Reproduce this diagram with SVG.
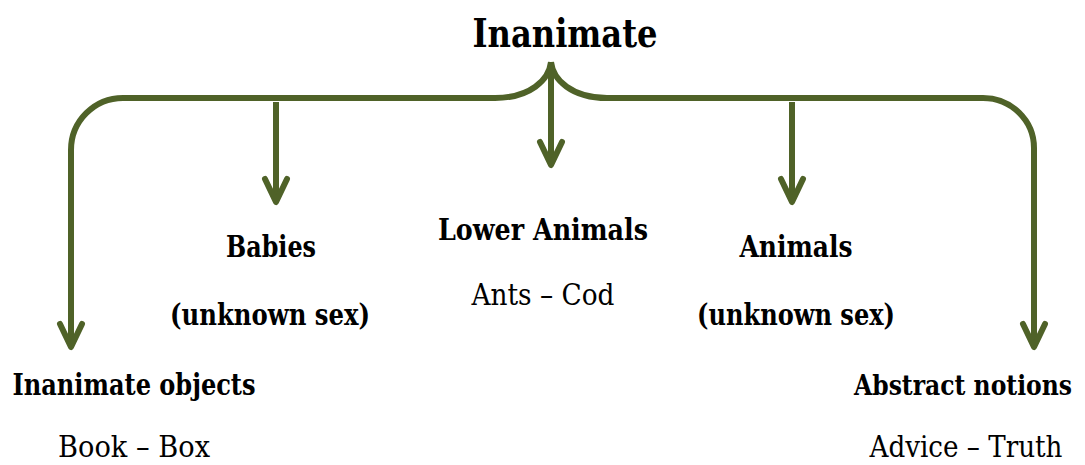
<svg xmlns="http://www.w3.org/2000/svg" width="1085" height="465" viewBox="0 0 1085 465">
<style>
.c{fill:none;stroke:#4F6228;stroke-width:6}
text{fill:#000;text-anchor:middle;font-family:"DejaVu Serif Condensed","DejaVu Serif","Liberation Serif",serif;font-stretch:condensed}
.b{font-weight:bold;font-size:30px}
.r{font-size:30px}
.t{font-weight:bold;font-size:40px}
</style>
<defs>
<marker id="ah" markerUnits="userSpaceOnUse" viewBox="-30 -15 40 30" markerWidth="40" markerHeight="30" refX="0" refY="0" orient="auto" overflow="visible">
<path d="M-23,-11 L0,0 L-23,11" fill="none" stroke="#4F6228" stroke-width="6" stroke-linecap="round" stroke-linejoin="round"/>
</marker>
</defs>
<g id="connectors">
<path class="c" d="M551,62 C549,80 530,98 495,98 H123 A52,52 0 0 0 71,150 V347" marker-end="url(#ah)"/>
<path class="c" d="M551,62 C553,80 572,98 607,98 H983 A51,50 0 0 1 1034,148 V347" marker-end="url(#ah)"/>
<line class="c" x1="551" y1="62" x2="551" y2="165" marker-end="url(#ah)"/>
<line class="c" x1="276" y1="102" x2="276" y2="202" marker-end="url(#ah)"/>
<line class="c" x1="792" y1="102" x2="792" y2="202" marker-end="url(#ah)"/>
</g>
<g id="title"><text class="t" x="565" y="47" textLength="185" lengthAdjust="spacingAndGlyphs">Inanimate</text></g>
<g id="inanimate-objects"><text class="b" x="134" y="395" textLength="243" lengthAdjust="spacingAndGlyphs">Inanimate objects</text><text class="r" x="134" y="457" textLength="152" lengthAdjust="spacingAndGlyphs">Book – Box</text></g>
<g id="babies"><text class="b" x="271" y="257" textLength="90" lengthAdjust="spacingAndGlyphs">Babies</text><text class="b" x="270" y="325" textLength="200" lengthAdjust="spacingAndGlyphs">(unknown sex)</text></g>
<g id="lower-animals"><text class="b" x="543" y="240" textLength="210" lengthAdjust="spacingAndGlyphs">Lower Animals</text><text class="r" x="543" y="305" textLength="143" lengthAdjust="spacingAndGlyphs">Ants – Cod</text></g>
<g id="animals"><text class="b" x="796" y="257" textLength="113" lengthAdjust="spacingAndGlyphs">Animals</text><text class="b" x="796" y="325" textLength="198" lengthAdjust="spacingAndGlyphs">(unknown sex)</text></g>
<g id="abstract-notions"><text class="b" x="963" y="395" style="font-size:28px" textLength="218" lengthAdjust="spacingAndGlyphs">Abstract notions</text><text class="r" x="966" y="457" textLength="193" lengthAdjust="spacingAndGlyphs">Advice – Truth</text></g>
</svg>
